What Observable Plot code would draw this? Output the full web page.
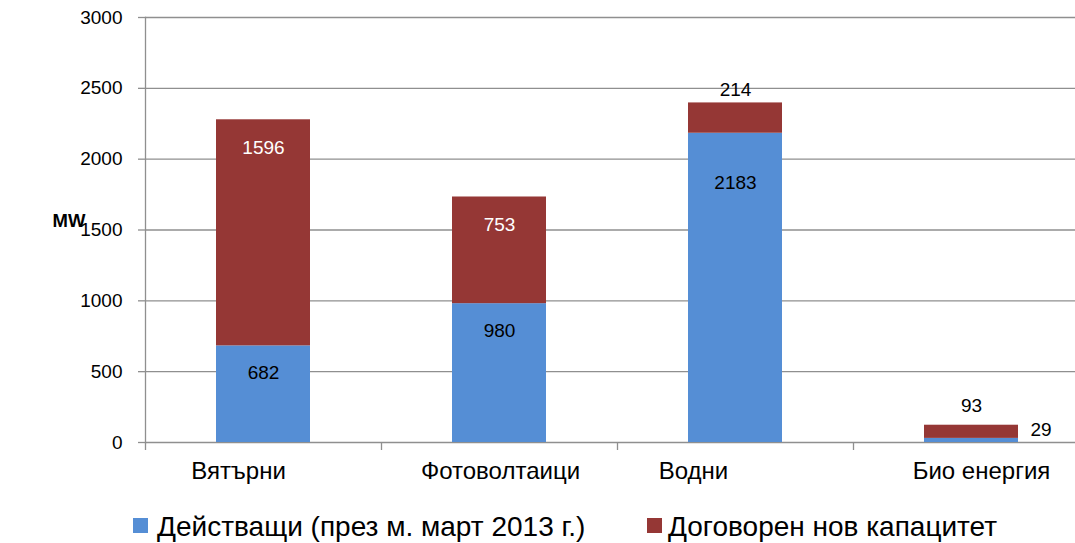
<!DOCTYPE html>
<html>
<head>
<meta charset="utf-8">
<script src="https://cdn.jsdelivr.net/npm/d3@7"></script>
<script src="https://cdn.jsdelivr.net/npm/@observablehq/plot@0.6"></script>
<style>
  html, body { margin: 0; padding: 0; background: #fff; overflow: hidden; }
  body { width: 1075px; height: 543px; font-family: "Liberation Sans", Arial, sans-serif; }
  #chart svg { display: block; overflow: hidden; }
  #legend { position: relative; height: 43px; width: 1075px; font-size: 28px; line-height: 28px; color: #000; }
  .sw { position: absolute; top: 18px; width: 15px; height: 15px; }
  .lt { position: absolute; top: 13px; white-space: nowrap; }
</style>
</head>
<body>
<div id="chart"></div>
<div id="legend"></div>
<script>
const categories = ["Вятърни", "Фотоволтаици", "Водни", "Био енергия"];
const operating = [682, 980, 2183, 29];
const contracted = [1596, 753, 214, 93];
const seriesNames = ["Действащи (през м. март 2013 г.)", "Договорен нов капацитет"];
const seriesColors = ["#558ed5", "#953735"];
const yTicks = [0, 500, 1000, 1500, 2000, 2500, 3000];
const yLabel = "MW";

const rows = categories.flatMap((c, i) => [
  {cat: c, series: seriesNames[0], value: operating[i]},
  {cat: c, series: seriesNames[1], value: contracted[i]}
]);
const lab = categories.map((c, i) => ({cat: c, op: String(operating[i]), ct: String(contracted[i]), opv: operating[i], top: operating[i] + contracted[i]}));

const W = 1075, H = 500;
const mL = 145, mT = 17, mB = 58;
const band = 236;
const font = "Liberation Sans, Arial, sans-serif";
const gridColor = "#8f8f8f";
const vfs = 19;

const chart = Plot.plot({
  width: W,
  height: H,
  marginLeft: mL,
  marginRight: 0,
  marginTop: mT,
  marginBottom: mB,
  style: {fontFamily: font, fontSize: "19px", color: "#000", background: "#fff"},
  x: {domain: categories, range: [mL, mL + band * categories.length], padding: 0, axis: null},
  y: {domain: [0, 3000], axis: null},
  color: {domain: seriesNames, range: seriesColors},
  marks: [
    Plot.ruleY(yTicks, {stroke: gridColor, strokeWidth: 1.3}),
    Plot.axisY({ticks: yTicks, tickSize: 7, tickPadding: 16, stroke: gridColor, strokeWidth: 1.3, fontSize: 19, fill: "#000", tickFormat: d => String(d)}),
    Plot.frame({anchor: "left", stroke: gridColor, strokeWidth: 1.3}),
    Plot.ruleX(categories, {x: d => d, dx: -band / 2, y1: 0, y2: 0, insetBottom: -8, stroke: gridColor, strokeWidth: 1.3}),
    Plot.barY(rows, {x: "cat", y: "value", fill: "series", insetLeft: 71, insetRight: 71}),
    // segment labels
    Plot.text(lab.slice(0, 2), {x: "cat", y: "top", text: "ct", dy: 28, fill: "#fff", fontSize: vfs}),
    Plot.text(lab.slice(2, 3), {x: "cat", y: "top", text: "ct", dy: -13, fill: "#000", fontSize: vfs}),
    Plot.text(lab.slice(3), {x: "cat", y: "top", text: "ct", dy: -19, fill: "#000", fontSize: vfs}),
    Plot.text(lab.slice(0, 2), {x: "cat", y: "opv", text: "op", dy: 27, fill: "#000", fontSize: vfs}),
    Plot.text(lab.slice(2, 3), {x: "cat", y: "opv", text: "op", dy: 50, fill: "#000", fontSize: vfs}),
    Plot.text(lab.slice(3), {x: "cat", y: "top", text: "op", dy: 5, dx: 59, textAnchor: "start", fill: "#000", fontSize: vfs}),
    // category labels
    Plot.text(categories.slice(0, 1), {x: d => d, frameAnchor: "bottom", dy: 36, dx: -25, fontSize: 24, fill: "#000"}),
    Plot.text(categories.slice(1, 2), {x: d => d, frameAnchor: "bottom", dy: 36, dx: 1, fontSize: 24, fill: "#000"}),
    Plot.text(categories.slice(2, 3), {x: d => d, frameAnchor: "bottom", dy: 36, dx: -42, fontSize: 24, fill: "#000"}),
    Plot.text(categories.slice(3, 4), {x: d => d, frameAnchor: "bottom", dy: 36, dx: 10, fontSize: 24, fill: "#000"}),
    // y axis unit label
    Plot.text([yLabel], {frameAnchor: "left", text: d => d, dx: -93, dy: -9, textAnchor: "start", fontWeight: "bold", fontSize: 18.5, fill: "#000"})
  ]
});
document.getElementById("chart").appendChild(chart);

const legend = document.getElementById("legend");
const swatchLeft = [133, 647];
const textLeft = [157, 668];
seriesNames.forEach((name, i) => {
  const sw = document.createElement("div");
  sw.className = "sw";
  sw.style.left = swatchLeft[i] + "px";
  sw.style.background = seriesColors[i];
  const t = document.createElement("div");
  t.className = "lt";
  t.style.left = textLeft[i] + "px";
  t.textContent = name;
  legend.appendChild(sw);
  legend.appendChild(t);
});
</script>
</body>
</html>
